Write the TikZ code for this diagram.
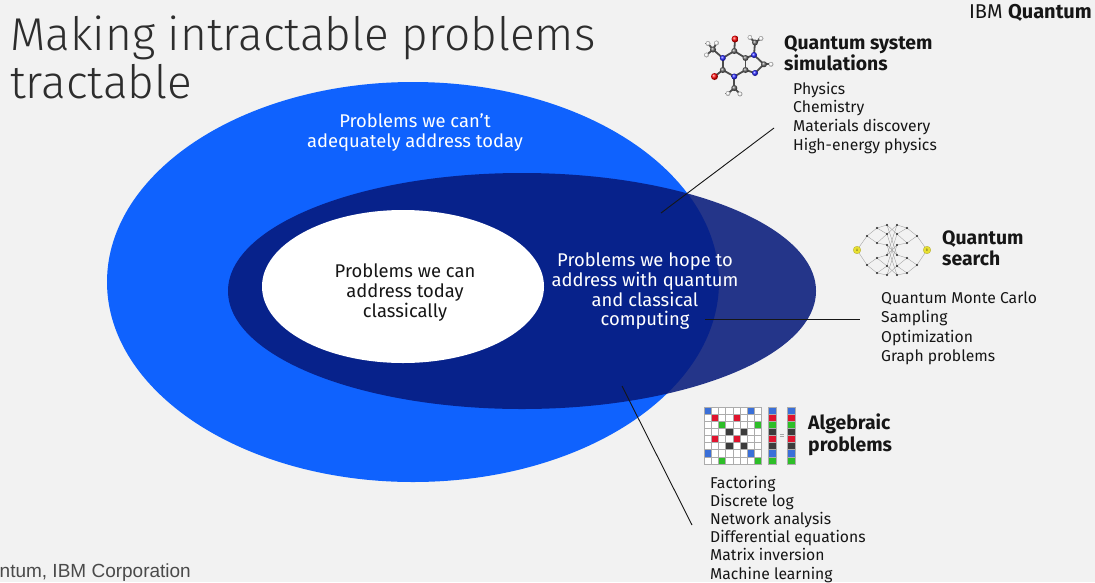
\documentclass[tikz,border=0pt]{standalone}
\usepackage{fontspec}
\setmainfont{Fira Sans}
\newfontfamily\titlefont{Fira Sans Light}
\newfontfamily\footfont{Liberation Sans}
\definecolor{bg}{HTML}{F2F2F2}
\definecolor{ibmblue}{HTML}{0F62FE}
\definecolor{navy}{HTML}{06197A}
\definecolor{ink}{HTML}{161616}
\definecolor{mblue}{HTML}{3A6FD8}
\definecolor{mred}{HTML}{E0142E}
\definecolor{mgreen}{HTML}{2DBE28}
\definecolor{mdark}{HTML}{3C3C3C}
\definecolor{netyellow}{HTML}{E8E030}
\definecolor{footgrey}{HTML}{4A4A4A}
\begin{document}
\begin{tikzpicture}[x=1pt,y=-1pt,
  txt/.style={inner sep=0pt, text=ink},
  listtxt/.style={txt, anchor=base west, font=\fontsize{15.7}{18}\selectfont},
  headtxt/.style={txt, anchor=base west, font=\fontsize{19.4}{22}\selectfont\bfseries},
  centertxt/.style={inner sep=0pt, anchor=base, font=\fontsize{18.4}{20}\selectfont},
  conn/.style={draw=ink, line width=0.9pt},
  cellbox/.style={draw=gray!65, line width=0.35pt},
  netedge/.style={draw=gray!75, line width=0.35pt},
  netdot/.style={fill=black!85},
  bond/.style={draw=black!70, line width=1.8pt},
]
\fill[bg] (0,0) rectangle (1095,582);
\useasboundingbox (0,0) rectangle (1095,582);

% ---------- ellipses ----------
\fill[ibmblue] (413,282) ellipse [x radius=306pt, y radius=200pt];
\fill[navy, fill opacity=0.87] (522,291) ellipse [x radius=294pt, y radius=118pt];
\fill[white] (403,286.5) ellipse [x radius=141pt, y radius=76.5pt];

% ---------- title ----------
\node[txt, anchor=base west, font=\titlefont\fontsize{46}{48}\selectfont, text=ink!90] (title1) at (10,50) {Making intractable problems};
\node[txt, anchor=base west, font=\titlefont\fontsize{46}{48}\selectfont, text=ink!90] (title2) at (10,98) {tractable};
\node[txt, anchor=base east, font=\fontsize{20}{22}\selectfont] (brand) at (1092,18.5) {IBM \textbf{Quantum}};

% ---------- ellipse texts ----------
\node[centertxt, text=white] (out1) at (415,127) {Problems we can’t};
\node[centertxt, text=white] (out2) at (415,147) {adequately address today};
\node[centertxt, text=ink] (in1) at (405,277) {Problems we can};
\node[centertxt, text=ink] (in2) at (405,297) {address today};
\node[centertxt, text=ink] (in3) at (405,317) {classically};
\node[centertxt, text=white] (mid1) at (645,266) {Problems we hope to};
\node[centertxt, text=white] (mid2) at (645,286) {address with quantum};
\node[centertxt, text=white] (mid3) at (645,306) {and classical};
\node[centertxt, text=white] (mid4) at (645,325.5) {computing};

% ---------- connectors ----------
\coordinate (c1a) at (661,213);
\coordinate (c1b) at (774,128);
\coordinate (c2a) at (705,319);
\coordinate (c2b) at (860,319);
\coordinate (c3a) at (622,386);
\coordinate (c3b) at (692,525);
\draw[conn] (c1a) -- (c1b);
\draw[conn] (c2a) -- (c2b);
\draw[conn] (c3a) -- (c3b);

% ---------- quantum system simulations ----------
\node[headtxt] (simh1) at (784,49.3) {Quantum system};
\node[headtxt] (simh2) at (784,70) {simulations};
\foreach \t [count=\i] in {Physics,Chemistry,Materials discovery,High-energy physics}
  \node[listtxt] (sim\i) at (793,{94+18.8*(\i-1)}) {\t};

% molecule icon
\coordinate (O1) at (735,39);
\coordinate (C2) at (734.3,51);
\coordinate (N1) at (722.8,58);
\coordinate (ML) at (713,49.5);
\coordinate (HL1) at (706.5,55);
\coordinate (HL2) at (708,43.5);
\coordinate (HL3) at (716.5,43);
\coordinate (C6) at (722.8,70);
\coordinate (O2) at (714.5,76.5);
\coordinate (N3) at (734.3,76.5);
\coordinate (MB) at (734.3,88);
\coordinate (HB1) at (728,93.5);
\coordinate (HB2) at (740,94);
\coordinate (C4) at (745.5,70);
\coordinate (C5) at (745.5,58);
\coordinate (N7) at (754,55);
\coordinate (MT) at (755,42.5);
\coordinate (HT1) at (761,38.5);
\coordinate (HT2) at (750,37.5);
\coordinate (C8) at (764,64.3);
\coordinate (H8) at (771,64.3);
\coordinate (N9) at (755,73);
\foreach \a/\b in {N1/C2,C2/O1,C2/C5,C5/C4,C4/N3,N3/C6,C6/N1,C6/O2,N1/ML,ML/HL1,ML/HL2,ML/HL3,N3/MB,MB/HB1,MB/HB2,C5/N7,N7/C8,C8/N9,N9/C4,N7/MT,MT/HT1,MT/HT2,C8/H8}
  \draw[bond] (\a) -- (\b);
\foreach \p in {HL1,HL2,HL3,HB1,HB2,HT1,HT2,H8}
  \shade[ball color=white] (\p) circle (2.4pt);
\foreach \p in {C2,C6,C4,C5,C8,ML,MB,MT}
  \shade[ball color=black!60] (\p) circle (3pt);
\foreach \p in {N1,N3,N7,N9}
  \shade[ball color=blue!85] (\p) circle (3pt);
\foreach \p in {O1,O2}
  \shade[ball color=red] (\p) circle (3.5pt);

% ---------- quantum search ----------
\node[headtxt] (srch1) at (942,244) {Quantum};
\node[headtxt] (srch2) at (942,265.5) {search};
\foreach \t [count=\i] in {Quantum Monte Carlo,Sampling,Optimization,Graph problems}
  \node[listtxt] (srl\i) at (881,{303+19.5*(\i-1)}) {\t};

% network icon
\coordinate (NA) at (857,250);
\coordinate (NB) at (927,250);
\foreach \y [count=\i] in {236,265} {
  \coordinate (p1\i) at (867,\y);
  \coordinate (p6\i) at (917,\y);
}
\foreach \y [count=\i] in {228,243,258,273} {
  \coordinate (p2\i) at (877,\y);
  \coordinate (p5\i) at (907,\y);
}
\foreach \y [count=\i] in {225,234,245,255,266,275} {
  \coordinate (p3\i) at (887,\y);
  \coordinate (p4\i) at (897,\y);
}
\foreach \a/\b in {NA/p11,NA/p12,p11/p21,p11/p22,p12/p23,p12/p24,
  p21/p31,p21/p32,p22/p32,p22/p33,p23/p34,p23/p35,p24/p35,p24/p36,
  NB/p61,NB/p62,p61/p51,p61/p52,p62/p53,p62/p54,
  p51/p41,p51/p42,p52/p42,p52/p43,p53/p44,p53/p45,p54/p45,p54/p46,
  p31/p42,p31/p44,p32/p41,p32/p45,p33/p44,p33/p46,p34/p41,p34/p43,p35/p42,p35/p46,p36/p43,p36/p45}
  \draw[netedge] (\a) -- (\b);
\foreach \p in {p11,p12,p21,p22,p23,p24,p31,p32,p33,p34,p35,p36,p41,p42,p43,p44,p45,p46,p51,p52,p53,p54,p61,p62}
  \fill[netdot] (\p) circle (1.1pt);
\fill[netyellow, draw=olive!70, line width=0.3pt] (NA) circle (3.8pt);
\fill[netyellow, draw=olive!70, line width=0.3pt] (NB) circle (3.8pt);
\node[inner sep=0pt, font=\fontsize{3.5}{4}\selectfont, text=olive!60!black] (la) at (NA) {A};
\node[inner sep=0pt, font=\fontsize{3.5}{4}\selectfont, text=olive!60!black] (lb) at (NB) {B};

% ---------- algebraic problems ----------
\node[headtxt] (algh1) at (808,429.5) {Algebraic};
\node[headtxt] (algh2) at (808,451.5) {problems};
\foreach \t [count=\i] in {Factoring,Discrete log,Network analysis,Differential equations,Matrix inversion,Machine learning}
  \node[listtxt] (alg\i) at (710,{488+18.2*(\i-1)}) {\t};

% matrix icon
\foreach \r in {0,...,7}
  \foreach \c in {0,...,7}
    \filldraw[fill=white, cellbox] ({704+7.2*\c},{407+7.1*\r}) rectangle ++(7.2,7.1);
\foreach \r/\c/\col in {0/0/mblue,0/6/mblue,1/1/mred,1/4/mred,2/2/mgreen,2/7/mgreen,
  3/3/mdark,3/5/mdark,4/1/mred,4/4/mred,5/3/mdark,5/5/mdark,6/0/mblue,6/6/mblue,7/2/mgreen,7/7/mgreen}
  \filldraw[fill=\col, cellbox] ({704+7.2*\c},{407+7.1*\r}) rectangle ++(7.2,7.1);
\foreach \vx in {768,787}
  \foreach \r/\col in {0/mblue,1/mred,2/mgreen,3/mdark,4/mred,5/mdark,6/mblue,7/mgreen}
    \filldraw[fill=\col, cellbox] (\vx,{407+7.1*\r}) rectangle ++(8,7.1);
\draw[gray!70, line width=0.6pt] (779.5,434) -- (783.5,434);
\draw[gray!70, line width=0.6pt] (779.5,436.5) -- (783.5,436.5);

% ---------- footer ----------
\node[inner sep=0pt, anchor=base west, font=\footfont\fontsize{19}{21}\selectfont, text=footgrey] (foot) at (-0.5,577) {ntum, IBM Corporation};
\end{tikzpicture}
\end{document}
